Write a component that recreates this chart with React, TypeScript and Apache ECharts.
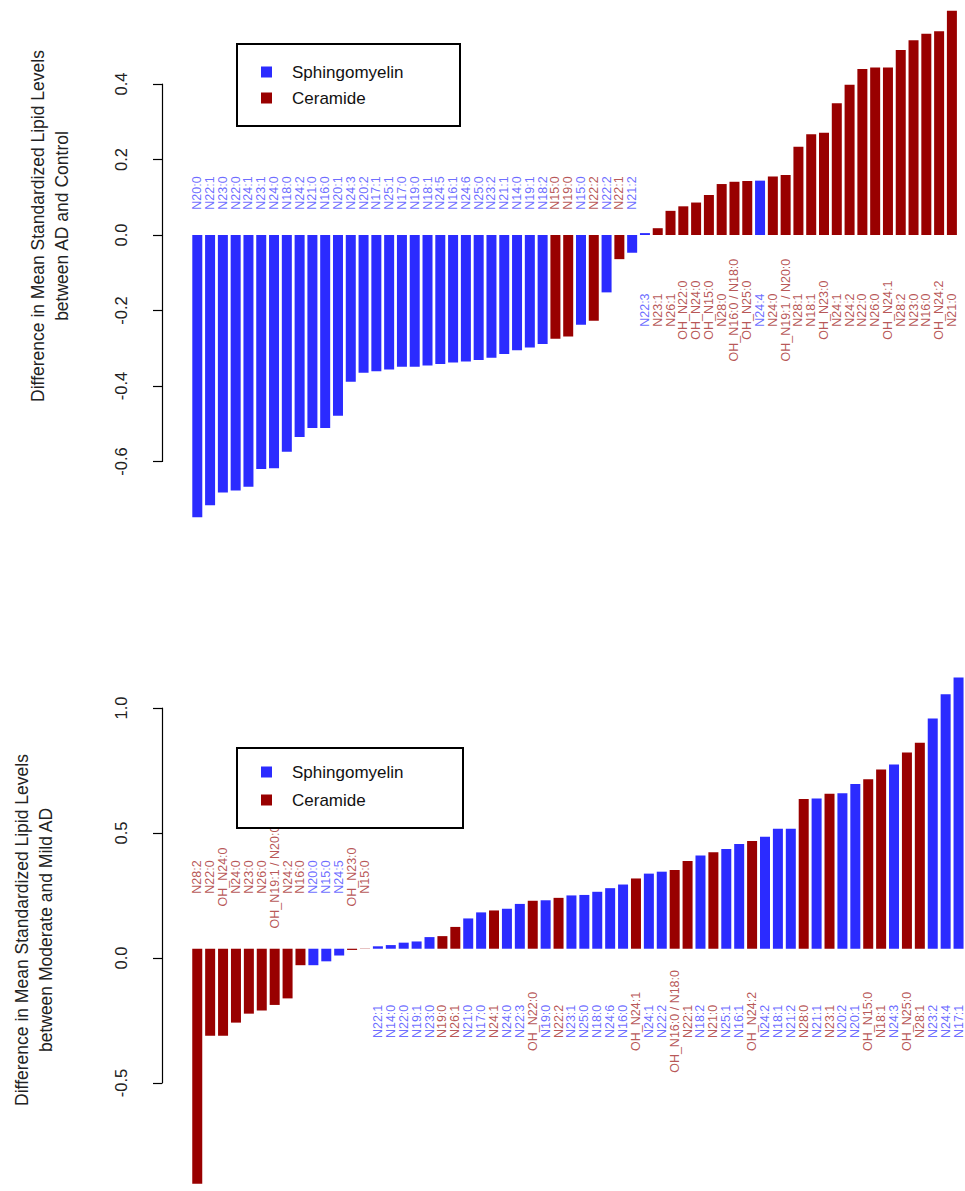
import React, { useEffect, useRef } from "react";
import * as echarts from "echarts";

// ---------- Top panel: AD vs Control ----------
const TOP_LABELS = [
  "N20:0", "N22:1", "N23:0", "N22:0", "N24:1", "N23:1", "N24:0", "N18:0", "N24:2", "N21:0",
  "N16:0", "N20:1", "N24:3", "N20:2", "N17:1", "N25:1", "N17:0", "N19:0", "N18:1", "N24:5",
  "N16:1", "N24:6", "N25:0", "N23:2", "N21:1", "N14:0", "N19:1", "N18:2", "N15:0", "N19:0",
  "N15:0", "N22:2", "N22:2", "N22:1", "N21:2", "N22:3", "N23:1", "N26:1", "OH_N22:0", "OH_N24:0",
  "OH_N15:0", "N28:0", "OH_N16:0 / N18:0", "OH_N25:0", "N24:4", "N24:0", "OH_N19:1 / N20:0", "N28:1", "N18:1", "OH_N23:0",
  "N24:1", "N24:2", "N22:0", "N26:0", "OH_N24:1", "N28:2", "N23:0", "N16:0", "OH_N24:2", "N21:0",
];
const TOP_CLASS = [
  "S", "S", "S", "S", "S", "S", "S", "S", "S", "S",
  "S", "S", "S", "S", "S", "S", "S", "S", "S", "S",
  "S", "S", "S", "S", "S", "S", "S", "S", "C", "C",
  "S", "C", "S", "C", "S", "S", "C", "C", "C", "C",
  "C", "C", "C", "C", "S", "C", "C", "C", "C", "C",
  "C", "C", "C", "C", "C", "C", "C", "C", "C", "C",
];
const TOP_VALUES = [
  -0.748, -0.716, -0.682, -0.677, -0.667, -0.62, -0.618, -0.574, -0.535, -0.511,
  -0.511, -0.479, -0.389, -0.365, -0.361, -0.356, -0.349, -0.349, -0.346, -0.342,
  -0.338, -0.335, -0.331, -0.325, -0.315, -0.305, -0.298, -0.289, -0.275, -0.269,
  -0.238, -0.227, -0.152, -0.064, -0.047, 0.005, 0.018, 0.064, 0.076, 0.086,
  0.106, 0.135, 0.141, 0.143, 0.144, 0.155, 0.159, 0.234, 0.267, 0.271,
  0.349, 0.398, 0.44, 0.444, 0.444, 0.49, 0.516, 0.533, 0.54, 0.594,
];
const TOP_TICKS = [-0.6, -0.4, -0.2, 0.0, 0.2, 0.4];

// ---------- Bottom panel: Moderate vs Mild AD ----------
const BOT_LABELS = [
  "N28:2", "N22:0", "OH_N24:0", "N24:0", "N23:0", "N26:0", "OH_N19:1 / N20:0", "N24:2", "N16:0", "N20:0",
  "N15:0", "N24:5", "OH_N23:0", "N15:0", "N22:1", "N14:0", "N22:0", "N19:1", "N23:0", "N19:0",
  "N26:1", "N21:0", "N17:0", "N24:1", "N24:0", "N22:3", "OH_N22:0", "N19:0", "N22:2", "N23:1",
  "N25:0", "N18:0", "N24:6", "N16:0", "OH_N24:1", "N24:1", "N22:2", "OH_N16:0 / N18:0", "N22:1", "N18:2",
  "N21:0", "N25:1", "N16:1", "OH_N24:2", "N24:2", "N18:1", "N21:2", "N28:0", "N21:1", "N23:1",
  "N20:2", "N20:1", "OH_N15:0", "N18:1", "N24:3", "OH_N25:0", "N28:1", "N23:2", "N24:4", "N17:1",
];
const BOT_CLASS = [
  "C", "C", "C", "C", "C", "C", "C", "C", "C", "S",
  "S", "S", "C", "C", "S", "S", "S", "S", "S", "C",
  "C", "S", "S", "C", "S", "S", "C", "S", "C", "S",
  "S", "S", "S", "S", "C", "S", "S", "C", "C", "S",
  "C", "S", "S", "C", "S", "S", "S", "C", "S", "C",
  "S", "S", "C", "C", "S", "C", "C", "S", "S", "S",
];
const BOT_VALUES = [
  -0.97, -0.359, -0.359, -0.305, -0.268, -0.255, -0.232, -0.205, -0.068, -0.068,
  -0.052, -0.028, -0.005, -0.001, 0.01, 0.015, 0.025, 0.03, 0.048, 0.052,
  0.09, 0.125, 0.15, 0.158, 0.165, 0.185, 0.198, 0.2, 0.21, 0.22,
  0.222, 0.235, 0.25, 0.265, 0.29, 0.31, 0.318, 0.325, 0.362, 0.385,
  0.398, 0.412, 0.432, 0.445, 0.462, 0.495, 0.495, 0.618, 0.62, 0.64,
  0.642, 0.68, 0.7, 0.74, 0.76, 0.81, 0.85, 0.95, 1.05, 1.12,
];
const BOT_TICKS = [-0.5, 0.0, 0.5, 1.0];

const LEGEND_NAMES = ["Sphingomyelin", "Ceramide"];

const BLUE = "#2b2bff";
const RED = "#990000";
const BLUE_TXT = "#4646ff";
const RED_TXT = "#a52a2a";
const FONT = "'Liberation Sans', Arial, Helvetica, sans-serif";

const colorOf = (c: string) => (c === "S" ? BLUE : RED);
const txtColorOf = (c: string) => (c === "S" ? BLUE_TXT : RED_TXT);

function legendGraphic(x: number, y: number, w: number, h: number, y1: number, y2: number) {
  return {
    type: "group",
    z: 100,
    children: [
      { type: "rect", shape: { x, y, width: w, height: h }, style: { fill: "#fff", stroke: "#000", lineWidth: 2 }, z: 100 },
      { type: "rect", shape: { x: x + 24, y: y1 - 5.5, width: 11, height: 11 }, style: { fill: BLUE }, z: 101 },
      { type: "text", x: x + 55, y: y1, style: { text: LEGEND_NAMES[0], font: `17px ${FONT}`, fill: "#111", textVerticalAlign: "middle" }, z: 101 },
      { type: "rect", shape: { x: x + 24, y: y2 - 5.5, width: 11, height: 11 }, style: { fill: RED }, z: 101 },
      { type: "text", x: x + 55, y: y2, style: { text: LEGEND_NAMES[1], font: `17px ${FONT}`, fill: "#111", textVerticalAlign: "middle" }, z: 101 },
    ],
  };
}

function titleText(x: number, y: number, text: string) {
  return {
    type: "text",
    x,
    y,
    rotation: Math.PI / 2,
    style: { text, font: `17.5px ${FONT}`, fill: "#222", textAlign: "center", textVerticalAlign: "middle" },
  };
}

export default function App() {
  const ref = useRef<HTMLDivElement>(null);

  useEffect(() => {
    if (!ref.current) return;
    const chart = echarts.init(ref.current, undefined, { renderer: "svg" });

    const axisY = (gridIndex: number, min: number, max: number, interval: number) => ({
      type: "value",
      gridIndex,
      min,
      max,
      interval,
      axisLine: { show: true, lineStyle: { color: "#000", width: 1.2 } },
      axisTick: { show: true, length: 9, lineStyle: { color: "#000", width: 1.2 } },
      axisLabel: {
        rotate: 90,
        margin: 33,
        fontSize: 16.5,
        fontFamily: FONT,
        color: "#222",
        formatter: (v: number) => v.toFixed(1),
      },
      splitLine: { show: false },
    });
    const hiddenY = (gridIndex: number, min: number, max: number) => ({
      type: "value",
      gridIndex,
      min,
      max,
      show: false,
      splitLine: { show: false },
    });
    const catX = (gridIndex: number, n: number) => ({
      type: "category",
      gridIndex,
      data: Array.from({ length: n }, (_, i) => String(i)),
      show: false,
    });
    const hiddenX = (gridIndex: number) => ({ type: "value", gridIndex, show: false, min: 0, max: 1 });

    const barSeries = (xi: number, values: number[], cls: string[]) => ({
      type: "bar",
      xAxisIndex: xi,
      yAxisIndex: xi,
      barWidth: 10,
      data: values.map((v, i) => ({ value: v, itemStyle: { color: colorOf(cls[i]) } })),
    });
    const labelSeries = (
      xi: number,
      values: number[],
      labels: string[],
      cls: string[],
      posY: number,
      negY: number
    ) => ({
      type: "scatter",
      xAxisIndex: xi,
      yAxisIndex: xi,
      symbolSize: 1,
      itemStyle: { color: "rgba(0,0,0,0)" },
      silent: true,
      data: values.map((v, i) => ({
        value: [i, v < 0 ? posY : negY],
        label: {
          show: true,
          position: "inside",
          rotate: 90,
          fontSize: 12.5,
          fontFamily: FONT,
          color: txtColorOf(cls[i]),
          formatter: () => labels[i],
        },
      })),
    });

    const topN = TOP_VALUES.length;
    const botN = BOT_VALUES.length;

    chart.setOption({
      animation: false,
      backgroundColor: "#fff",
      grid: [
        { left: 190.9, top: 8.5, width: 767.4, height: 528.5 },
        { left: 162, top: 84, width: 10, height: 377.5 },
        { left: 190.8, top: 658, width: 780, height: 550 },
        { left: 162, top: 708, width: 10, height: 375 },
      ],
      xAxis: [catX(0, topN), hiddenX(1), catX(2, botN), hiddenX(3)],
      yAxis: [
        hiddenY(0, -0.8, 0.6),
        axisY(1, TOP_TICKS[0], TOP_TICKS[TOP_TICKS.length - 1], 0.2),
        hiddenY(2, -1.0, 1.2),
        axisY(3, BOT_TICKS[0], BOT_TICKS[BOT_TICKS.length - 1], 0.5),
      ],
      series: [
        barSeries(0, TOP_VALUES, TOP_CLASS),
        labelSeries(0, TOP_VALUES, TOP_LABELS, TOP_CLASS, 0.111, -0.199),
        barSeries(2, BOT_VALUES, BOT_CLASS),
        labelSeries(2, BOT_VALUES, BOT_LABELS, BOT_CLASS, 0.296, -0.3),
      ],
      graphic: [
        titleText(38, 226, "Difference in Mean Standardized Lipid Levels"),
        titleText(62, 226, "between AD and Control"),
        titleText(22, 930, "Difference in Mean Standardized Lipid Levels"),
        titleText(46, 930, "between Moderate and Mild AD"),
        legendGraphic(237, 44, 223, 82, 72, 98),
        legendGraphic(237, 748, 226, 80, 772, 800),
      ],
    });

    return () => chart.dispose();
  }, []);

  return (
    <div
      ref={ref}
      style={{ position: "fixed", left: 0, top: 0, width: 965, height: 1191, background: "#fff" }}
    />
  );
}
